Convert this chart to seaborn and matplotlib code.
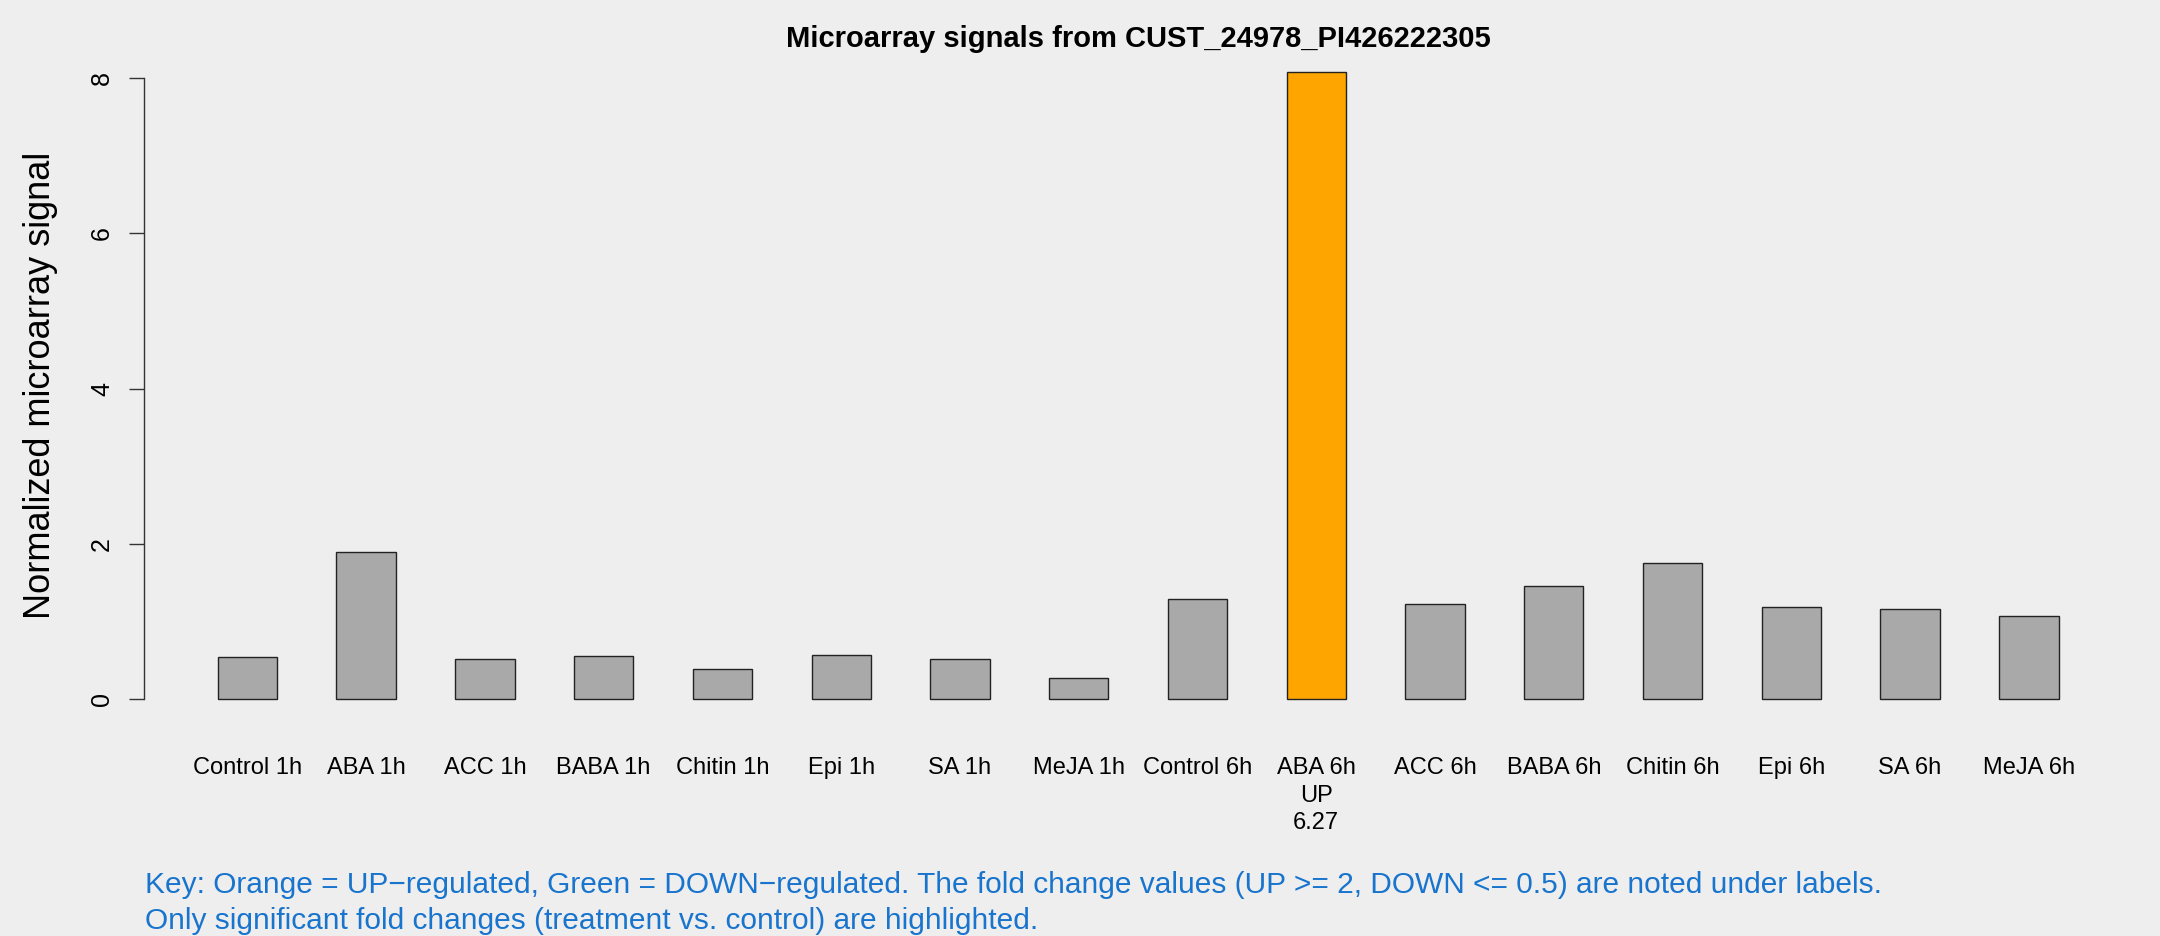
import numpy as np
import pandas as pd
import seaborn as sns
import matplotlib.pyplot as plt

# values
samples = ["Control 1h", "ABA 1h", "ACC 1h", "BABA 1h", "Chitin 1h", "Epi 1h", "SA 1h", "MeJA 1h",
           "Control 6h", "ABA 6h", "ACC 6h", "BABA 6h", "Chitin 6h", "Epi 6h", "SA 6h", "MeJA 6h"]
signal = [0.54, 1.90, 0.52, 0.55, 0.38, 0.57, 0.52, 0.27,
          1.29, 8.08, 1.22, 1.46, 1.75, 1.19, 1.16, 1.07]
regulation = ["", "", "", "", "", "", "", "",
              "", "UP", "", "", "", "", "", ""]
fold_change = ["", "", "", "", "", "", "", "",
               "", "6.27", "", "", "", "", "", ""]
yticks = [0, 2, 4, 6, 8]

title = "Microarray signals from CUST_24978_PI426222305"
key_lines = ["Key: Orange = UP\u2212regulated, Green = DOWN\u2212regulated. The fold change values "
             "(UP >= 2, DOWN <= 0.5) are noted under labels.",
             "Only significant fold changes (treatment vs. control) are highlighted."]

reg_colors = {"UP": "#FFA500", "DOWN": "#00CD00", "": "#A9A9A9"}
bg = "#EEEEEE"

sns.set_theme(style="white")
plt.rcParams['font.family'] = ['Liberation Sans', 'DejaVu Sans']
plt.rcParams['text.color'] = 'black'
plt.rcParams['axes.labelcolor'] = 'black'
plt.rcParams['xtick.color'] = 'black'
plt.rcParams['ytick.color'] = 'black'

df = pd.DataFrame({"sample": samples, "signal": signal, "reg": regulation})
palette = [reg_colors[r] for r in regulation]

fig = plt.figure(figsize=(21.6, 9.36), dpi=100, facecolor=bg)
ax = fig.add_axes([0.0667, 0.2265, 0.9204, 0.7233])
ax.set_facecolor(bg)

sns.barplot(data=df, x="sample", y="signal", hue="sample", palette=palette, legend=False,
            width=0.5, saturation=1, edgecolor="#222222", linewidth=1.0, ax=ax)

# R style limits: 4% padding around the data range
n = len(samples)
xspan = n - 0.5
ax.set_xlim(-0.25 - 0.04 * xspan, n - 0.75 + 0.04 * xspan)
ymax = max(signal)
ax.set_ylim(-0.04 * ymax, ymax * 1.04)

for s in ["top", "right", "bottom"]:
    ax.spines[s].set_visible(False)
ax.spines["left"].set_bounds(yticks[0], yticks[-1])
ax.spines["left"].set_color("#333333")
ax.spines["left"].set_linewidth(1.0)

ax.set_yticks(yticks)
ax.set_yticklabels([str(t) for t in yticks], rotation=90, va="center", fontsize=18)
ax.tick_params(axis="y", length=10.6, width=1.0, color="#333333", pad=11, left=True)

xlabels = []
for s, r, f in zip(samples, regulation, fold_change):
    lab = s
    if r:
        lab += "\n" + r + "\n" + f
    xlabels.append(lab)
ax.set_xticks(range(n))
ax.set_xticklabels(xlabels, fontsize=17, linespacing=1.32)
ax.tick_params(axis="x", length=0, pad=24)

ax.set_xlabel("")
ax.set_ylabel("Normalized microarray signal", fontsize=26)
ax.yaxis.label.set(ha="center", va="center", rotation_mode="default")
ax.yaxis.set_label_coords(-0.0523, 0.5)

ax.set_title(title, fontsize=21, fontweight="bold", pad=0)

fig.text(145 / 2160, 1 - 893 / 936, key_lines[0], color="#1874CD", fontsize=21.5, va="baseline")
fig.text(145 / 2160, 1 - 929 / 936, key_lines[1], color="#1874CD", fontsize=21.5, va="baseline")

fig.savefig("out.png", dpi=100, facecolor=bg)
